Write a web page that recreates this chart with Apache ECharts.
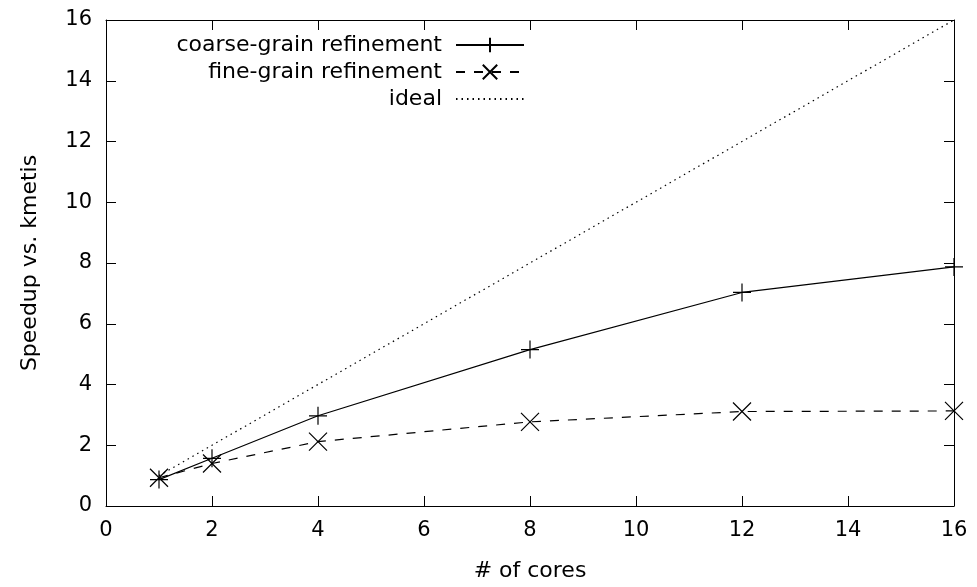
<!DOCTYPE html>
<html>
<head>
<meta charset="utf-8">
<script src="https://cdn.jsdelivr.net/npm/echarts@6/dist/echarts.min.js"></script>
<style>
  html, body { margin: 0; padding: 0; background: #fff; }
  #chart { width: 977px; height: 587px; }
</style>
</head>
<body>
<div id="chart"></div>
<script>
// Core counts and measured speedups over kmetis
const cores = [1, 2, 4, 8, 12, 16];
const coarseGrain = [0.87, 1.57, 2.97, 5.15, 7.03, 7.87];
const fineGrain = [0.93, 1.40, 2.12, 2.77, 3.11, 3.13];
const ideal = [1, 2, 4, 8, 12, 16];
const axisTicks = [0, 2, 4, 6, 8, 10, 12, 14, 16];

const seriesNames = ['coarse-grain refinement', 'fine-grain refinement', 'ideal'];

const pairs = (xs, ys) => xs.map((x, i) => [x, ys[i]]);

const FONT = 'DejaVu Sans';
const TICK_SIZE = 21;
const TEXT_SIZE = 22;
const plusPath = 'path://M0,5L10,5M5,0L5,10';
const crossPath = 'path://M0,0L10,10M10,0L0,10';

const chart = echarts.init(document.getElementById('chart'), null, { renderer: 'canvas' });

const baseAxis = {
  type: 'value',
  min: axisTicks[0],
  max: axisTicks[axisTicks.length - 1],
  interval: 2,
  splitLine: { show: false },
  axisLine: { show: true, onZero: false, lineStyle: { color: '#000', width: 1 } },
  axisTick: { show: true, inside: true, length: 10, lineStyle: { color: '#000' } }
};

function legendFor(entry, top) {
  return {
    data: [entry],
    right: 452,
    top: top,
    orient: 'vertical',
    align: 'right',
    itemWidth: 68,
    itemHeight: 18,
    itemGap: 0,
    padding: 0,
    selectedMode: false,
    textStyle: { fontFamily: FONT, fontSize: TEXT_SIZE, color: '#000', padding: [0, 9, 0, 0] }
  };
}

chart.setOption({
  backgroundColor: '#fff',
  animation: false,
  grid: { left: 106, right: 23, top: 20, bottom: 80 },
  legend: [
    legendFor(seriesNames[0], 34),
    legendFor(seriesNames[1], 61),
    legendFor({ name: seriesNames[2], itemStyle: { opacity: 0 } }, 88)
  ],
  xAxis: [
    Object.assign({}, baseAxis, {
      position: 'bottom',
      name: '# of cores',
      nameLocation: 'middle',
      nameGap: 54,
      nameTextStyle: { fontFamily: FONT, fontSize: TEXT_SIZE, color: '#000' },
      axisLabel: { fontFamily: FONT, fontSize: TICK_SIZE, color: '#000', margin: 14 }
    }),
    Object.assign({}, baseAxis, {
      position: 'top',
      axisLabel: { show: false }
    })
  ],
  yAxis: [
    Object.assign({}, baseAxis, {
      position: 'left',
      name: 'Speedup vs. kmetis',
      nameLocation: 'middle',
      nameGap: 65,
      nameTextStyle: { fontFamily: FONT, fontSize: TEXT_SIZE, color: '#000' },
      axisLabel: { fontFamily: FONT, fontSize: TICK_SIZE, color: '#000', margin: 14 }
    }),
    Object.assign({}, baseAxis, {
      position: 'right',
      axisLabel: { show: false }
    })
  ],
  series: [
    {
      name: seriesNames[0],
      type: 'line',
      data: pairs(cores, coarseGrain),
      symbol: plusPath,
      symbolSize: 18,
      showAllSymbol: true,
      lineStyle: { color: '#000', width: 1.2, type: 'solid' },
      itemStyle: { color: 'rgba(0,0,0,0)', borderColor: '#000', borderWidth: 1.2 },
      z: 3
    },
    {
      name: seriesNames[1],
      type: 'line',
      data: pairs(cores, fineGrain),
      symbol: crossPath,
      symbolSize: 18,
      showAllSymbol: true,
      lineStyle: { color: '#000', width: 1.2, type: [9, 9] },
      itemStyle: { color: 'rgba(0,0,0,0)', borderColor: '#000', borderWidth: 1.2 },
      z: 3
    },
    {
      name: seriesNames[2],
      type: 'line',
      data: pairs(cores, ideal),
      symbol: 'none',
      lineStyle: { color: '#000', width: 1.2, type: [1.5, 4] },
      itemStyle: { color: '#000' },
      z: 2
    }
  ]
});
</script>
</body>
</html>
